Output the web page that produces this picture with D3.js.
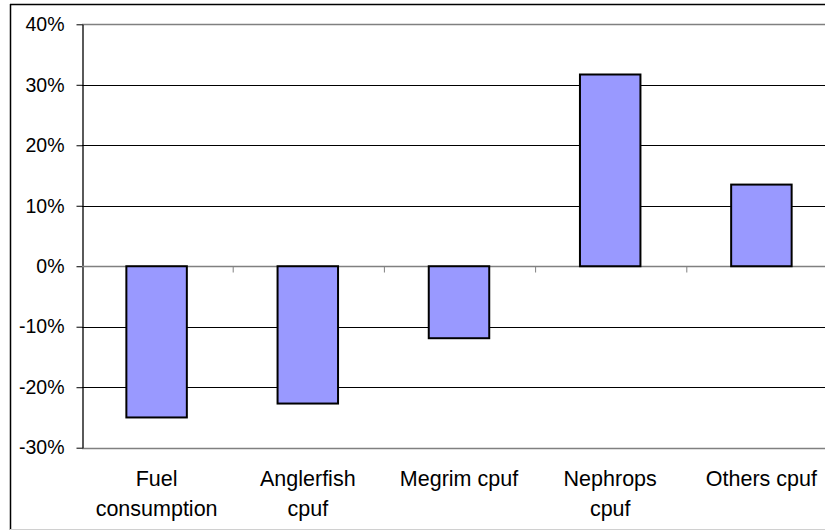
<!DOCTYPE html>
<html>
<head>
<meta charset="utf-8">
<script src="https://cdn.jsdelivr.net/npm/d3@7"></script>
<style>
  html, body { margin: 0; padding: 0; background: #fff; }
  svg { display: block; }
  text { font-family: "Liberation Sans", Arial, sans-serif; fill: #000; }
</style>
</head>
<body>
<svg id="chart" width="825" height="531"></svg>
<script>
// Percentage change per indicator
const categories = [["Fuel", "consumption"], ["Anglerfish", "cpuf"], ["Megrim cpuf"], ["Nephrops", "cpuf"], ["Others cpuf"]];
const values = [-0.25, -0.227, -0.119, 0.317, 0.135];
const yTicks = [0.4, 0.3, 0.2, 0.1, 0, -0.1, -0.2, -0.3];

const svg = d3.select("#chart");
const W = 825, H = 531;

const plot = { left: 81, right: 837, top: 24.3, bottom: 447.7 };

const x = d3.scaleBand()
  .domain(d3.range(categories.length))
  .range([plot.left, plot.right])
  .padding(0);

const y = d3.scaleLinear()
  .domain([-0.3, 0.4])
  .range([plot.bottom, plot.top]);

// Outer frame
svg.append("line").attr("x1", 10.5).attr("x2", 10.5).attr("y1", 4).attr("y2", 530)
  .attr("stroke", "#000").attr("stroke-width", 1.5);
svg.append("line").attr("x1", 10).attr("x2", W).attr("y1", 4.5).attr("y2", 4.5)
  .attr("stroke", "#000").attr("stroke-width", 1.5);
svg.append("line").attr("x1", 10).attr("x2", W).attr("y1", 529.5).attr("y2", 529.5)
  .attr("stroke", "#d0d0d0").attr("stroke-width", 1);

// Gridlines (inner ones black, plot border gray)
svg.append("g").selectAll("line")
  .data(yTicks)
  .join("line")
  .attr("x1", plot.left + 1).attr("x2", W)
  .attr("y1", d => Math.round(y(d)) + 0.5).attr("y2", d => Math.round(y(d)) + 0.5)
  .attr("stroke", d => (d === 0.4 || d === -0.3) ? "#808080" : "#000")
  .attr("stroke-width", d => (d === 0.4 || d === -0.3) ? 1.5 : 1);

// Y axis
const pct = d3.format(".0%");
const yAxis = d3.axisLeft(y)
  .tickValues(yTicks)
  .tickFormat(d => pct(d).replace("\u2212", "-"))
  .tickSizeInner(6)
  .tickSizeOuter(0)
  .tickPadding(12);

const gy = svg.append("g")
  .attr("transform", `translate(${plot.left + 1.5},0)`)
  .call(yAxis);
gy.select(".domain").attr("stroke", "#000").attr("stroke-width", 1.3);
gy.selectAll(".tick line").attr("stroke", "#000");
gy.selectAll(".tick text")
  .attr("font-size", 19.5)
  .attr("font-family", "Liberation Sans, Arial, sans-serif")
  .attr("fill", "#000");

// Category axis at zero with ticks between categories
const y0 = Math.round(y(0)) + 0.5;
svg.append("line")
  .attr("x1", plot.left + 1).attr("x2", W)
  .attr("y1", y0).attr("y2", y0)
  .attr("stroke", "#808080").attr("stroke-width", 1.3);
svg.append("g").selectAll("line")
  .data(d3.range(1, categories.length))
  .join("line")
  .attr("x1", i => x(i) + 1).attr("x2", i => x(i) + 1)
  .attr("y1", y0).attr("y2", y0 + 6)
  .attr("stroke", "#808080").attr("stroke-width", 1);

// Bars
svg.append("g").selectAll("rect")
  .data(values)
  .join("rect")
  .attr("x", (d, i) => x(i) + x.bandwidth() * 0.3)
  .attr("width", x.bandwidth() * 0.4)
  .attr("y", d => y(Math.max(0, d)))
  .attr("height", d => Math.abs(y(d) - y(0)))
  .attr("fill", "#9999FF")
  .attr("stroke", "#000")
  .attr("stroke-width", 2);

// Category labels
const labels = svg.append("g").selectAll("text")
  .data(categories)
  .join("text")
  .attr("text-anchor", "middle")
  .attr("font-size", 21.5)
  .attr("x", (d, i) => x(i) + x.bandwidth() / 2)
  .attr("y", 486);
labels.selectAll("tspan")
  .data(d => d)
  .join("tspan")
  .attr("x", function () { return d3.select(this.parentNode).attr("x"); })
  .attr("dy", (d, i) => i === 0 ? 0 : 30)
  .text(d => d);
</script>
</body>
</html>
